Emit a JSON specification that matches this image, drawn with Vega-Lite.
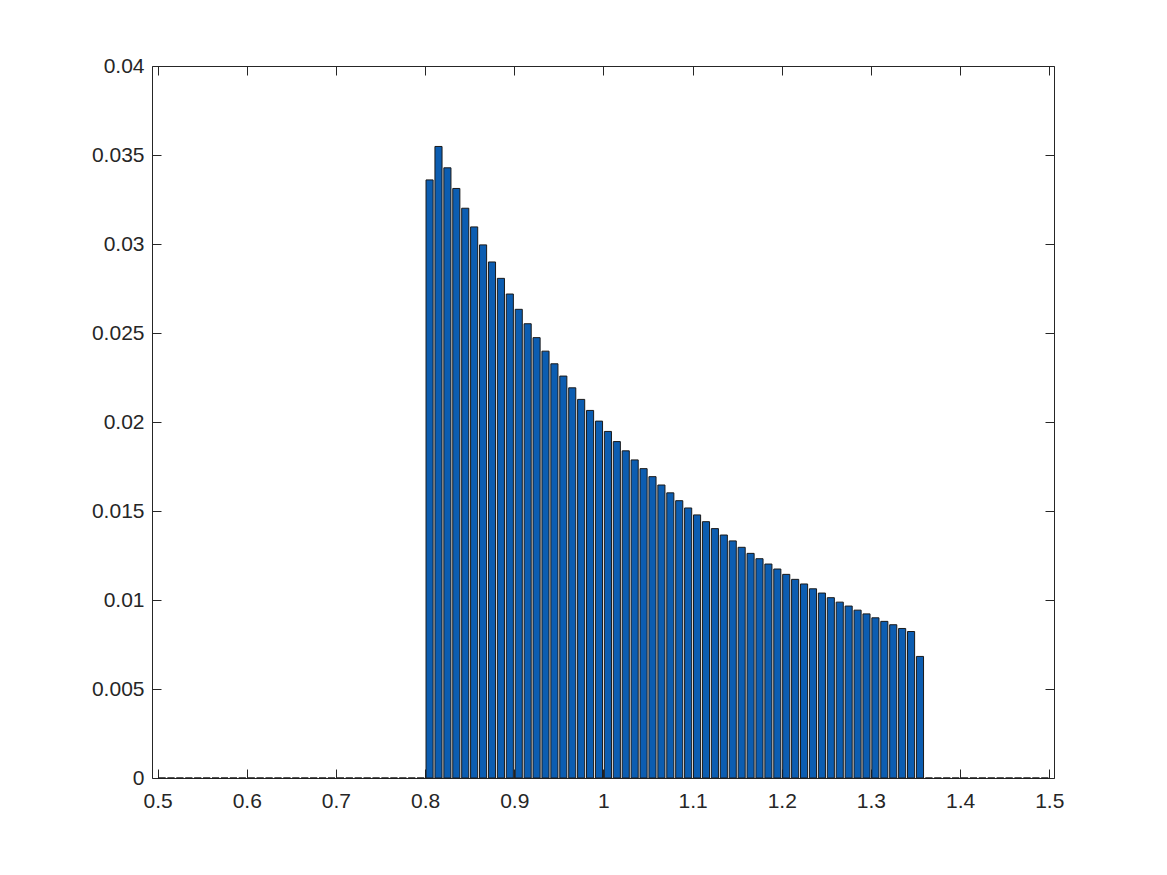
{
  "$schema": "https://vega.github.io/schema/vega-lite/v6.json",
  "width": 902,
  "height": 712,
  "autosize": {"type": "none"},
  "padding": {"left": 152, "top": 66, "right": 113, "bottom": 97},
  "background": "white",
  "config": {
    "view": {"stroke": null},
    "axis": {
      "labelFont": "Liberation Sans",
      "labelFontSize": 21,
      "labelColor": "#262626",
      "domainColor": "#262626",
      "tickColor": "#262626",
      "domainWidth": 1,
      "tickWidth": 1,
      "grid": false,
      "zindex": 1,
      "title": null
    }
  },
  "data": {
    "values": [
      {"x": 0.505, "y": 0}, {"x": 0.515, "y": 0}, {"x": 0.525, "y": 0}, {"x": 0.535, "y": 0}, {"x": 0.545, "y": 0},
      {"x": 0.555, "y": 0}, {"x": 0.565, "y": 0}, {"x": 0.575, "y": 0}, {"x": 0.585, "y": 0}, {"x": 0.595, "y": 0},
      {"x": 0.605, "y": 0}, {"x": 0.615, "y": 0}, {"x": 0.625, "y": 0}, {"x": 0.635, "y": 0}, {"x": 0.645, "y": 0},
      {"x": 0.655, "y": 0}, {"x": 0.665, "y": 0}, {"x": 0.675, "y": 0}, {"x": 0.685, "y": 0}, {"x": 0.695, "y": 0},
      {"x": 0.705, "y": 0}, {"x": 0.715, "y": 0}, {"x": 0.725, "y": 0}, {"x": 0.735, "y": 0}, {"x": 0.745, "y": 0},
      {"x": 0.755, "y": 0}, {"x": 0.765, "y": 0}, {"x": 0.775, "y": 0}, {"x": 0.785, "y": 0}, {"x": 0.795, "y": 0},
      {"x": 0.805, "y": 0.03360}, {"x": 0.815, "y": 0.03548}, {"x": 0.825, "y": 0.03428}, {"x": 0.835, "y": 0.03312},
      {"x": 0.845, "y": 0.03201}, {"x": 0.855, "y": 0.03096}, {"x": 0.865, "y": 0.02995}, {"x": 0.875, "y": 0.02899},
      {"x": 0.885, "y": 0.02807}, {"x": 0.895, "y": 0.02719}, {"x": 0.905, "y": 0.02633}, {"x": 0.915, "y": 0.02552},
      {"x": 0.925, "y": 0.02474}, {"x": 0.935, "y": 0.02398}, {"x": 0.945, "y": 0.02327}, {"x": 0.955, "y": 0.02258},
      {"x": 0.965, "y": 0.02192}, {"x": 0.975, "y": 0.02127}, {"x": 0.985, "y": 0.02065}, {"x": 0.995, "y": 0.02005},
      {"x": 1.005, "y": 0.01947}, {"x": 1.015, "y": 0.01890}, {"x": 1.025, "y": 0.01838}, {"x": 1.035, "y": 0.01787},
      {"x": 1.045, "y": 0.01738}, {"x": 1.055, "y": 0.01693}, {"x": 1.065, "y": 0.01646}, {"x": 1.075, "y": 0.01602},
      {"x": 1.085, "y": 0.01558}, {"x": 1.095, "y": 0.01517}, {"x": 1.105, "y": 0.01478}, {"x": 1.115, "y": 0.01440},
      {"x": 1.125, "y": 0.01401}, {"x": 1.135, "y": 0.01365}, {"x": 1.145, "y": 0.01332}, {"x": 1.155, "y": 0.01296},
      {"x": 1.165, "y": 0.01262}, {"x": 1.175, "y": 0.01232}, {"x": 1.185, "y": 0.01202}, {"x": 1.195, "y": 0.01174},
      {"x": 1.205, "y": 0.01144}, {"x": 1.215, "y": 0.01116}, {"x": 1.225, "y": 0.01090}, {"x": 1.235, "y": 0.01063},
      {"x": 1.245, "y": 0.01039}, {"x": 1.255, "y": 0.01013}, {"x": 1.265, "y": 0.00988}, {"x": 1.275, "y": 0.00966},
      {"x": 1.285, "y": 0.00943}, {"x": 1.295, "y": 0.00922}, {"x": 1.305, "y": 0.00900}, {"x": 1.315, "y": 0.00880},
      {"x": 1.325, "y": 0.00861}, {"x": 1.335, "y": 0.00840}, {"x": 1.345, "y": 0.00823}, {"x": 1.355, "y": 0.00683},
      {"x": 1.365, "y": 0}, {"x": 1.375, "y": 0}, {"x": 1.385, "y": 0}, {"x": 1.395, "y": 0}, {"x": 1.405, "y": 0},
      {"x": 1.415, "y": 0}, {"x": 1.425, "y": 0}, {"x": 1.435, "y": 0}, {"x": 1.445, "y": 0}, {"x": 1.455, "y": 0},
      {"x": 1.465, "y": 0}, {"x": 1.475, "y": 0}, {"x": 1.485, "y": 0}, {"x": 1.495, "y": 0}
    ]
  },
  "layer": [
    {
      "mark": {"type": "bar", "size": 7.1, "fill": "#0c5db1", "stroke": "#1a1a1a", "strokeWidth": 1, "orient": "vertical"},
      "encoding": {
        "x": {
          "field": "x", "type": "quantitative",
          "scale": {"domain": [0.4937, 1.5053], "nice": false, "zero": false, "padding": 0},
          "axis": {
            "orient": "bottom",
            "values": [0.5, 0.6, 0.7, 0.8, 0.9, 1.0, 1.1, 1.2, 1.3, 1.4, 1.5],
            "format": "~g",
            "tickSize": -9,
            "labelPadding": 21,
            "labelFlush": false,
            "labelOverlap": false
          }
        },
        "y": {
          "field": "y", "type": "quantitative",
          "scale": {"domain": [0, 0.04], "nice": false, "zero": true, "padding": 0},
          "axis": {
            "orient": "left",
            "values": [0, 0.005, 0.01, 0.015, 0.02, 0.025, 0.03, 0.035, 0.04],
            "format": "~g",
            "tickSize": -9,
            "labelPadding": 17,
            "labelOverlap": false
          }
        }
      }
    },
    {
      "mark": {"type": "point", "opacity": 0},
      "encoding": {
        "x": {
          "field": "x", "type": "quantitative",
          "scale": {"domain": [0.4937, 1.5053], "nice": false, "zero": false, "padding": 0},
          "axis": {
            "orient": "top",
            "values": [0.5, 0.6, 0.7, 0.8, 0.9, 1.0, 1.1, 1.2, 1.3, 1.4, 1.5],
            "tickSize": -9,
            "labels": false
          }
        },
        "y": {
          "field": "y", "type": "quantitative",
          "scale": {"domain": [0, 0.04], "nice": false, "zero": true, "padding": 0},
          "axis": {
            "orient": "right",
            "values": [0, 0.005, 0.01, 0.015, 0.02, 0.025, 0.03, 0.035, 0.04],
            "tickSize": -9,
            "labels": false
          }
        }
      }
    }
  ],
  "resolve": {"axis": {"x": "independent", "y": "independent"}}
}
